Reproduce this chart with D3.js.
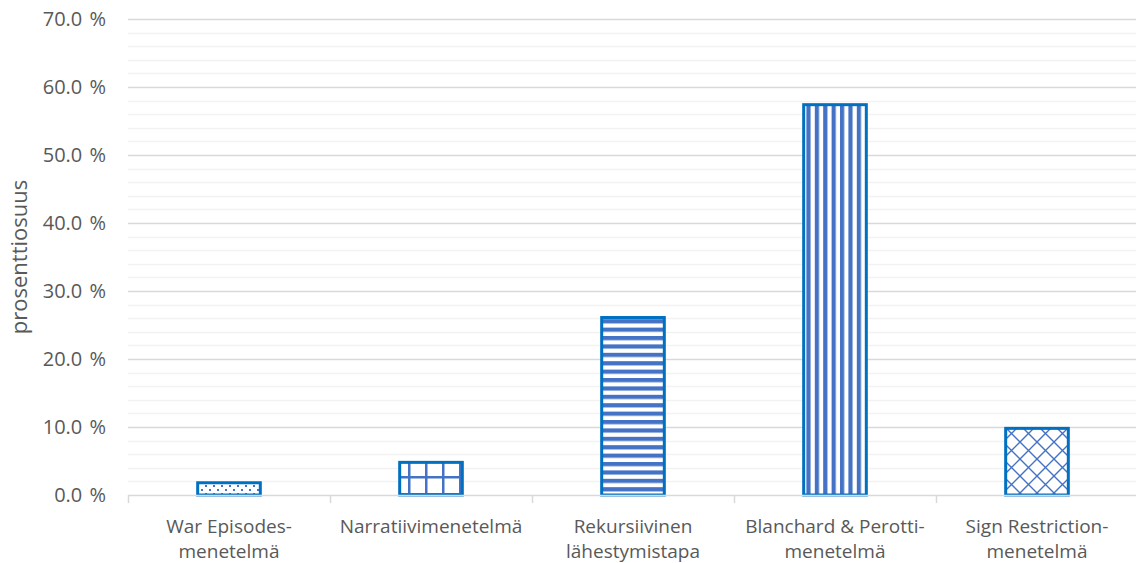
<!DOCTYPE html>
<html>
<head>
<meta charset="utf-8">
<script src="https://cdn.jsdelivr.net/npm/d3@7"></script>
<style>
  html, body { margin: 0; padding: 0; background: #fff; }
  svg { display: block; }
  text { font-family: "Open Sans", "Noto Sans", sans-serif; fill: #595959; }
</style>
</head>
<body>
<svg id="chart" width="1136" height="563"></svg>
<script>
// Share of each identification method (percent)
const categories = [
  ["War Episodes-", "menetelmä"],
  ["Narratiivimenetelmä"],
  ["Rekursiivinen", "lähestymistapa"],
  ["Blanchard & Perotti-", "menetelmä"],
  ["Sign Restriction-", "menetelmä"]
];
const values = [1.8, 4.8, 26.1, 57.4, 9.8];
const patterns = ["dots", "grid", "hstripes", "vstripes", "diamonds"];
const yTicks = [0, 10, 20, 30, 40, 50, 60, 70];
const yTickLabels = ["0.0 %", "10.0 %", "20.0 %", "30.0 %", "40.0 %", "50.0 %", "60.0 %", "70.0 %"];
const yTitle = "prosenttiosuus";

const svg = d3.select("#chart");
const W = 1136, H = 563;
const plot = { left: 128, right: 1138, top: 19, bottom: 495 };

const fillColor = "#4472c4";
const edgeColor = "#0070c0";

const x = d3.scaleBand()
  .domain(d3.range(categories.length))
  .range([plot.left, plot.right])
  .paddingInner(0.69)
  .paddingOuter(0.345);

const y = d3.scaleLinear().domain([0, 70]).range([plot.bottom, plot.top]);

// Fill patterns
const defs = svg.append("defs");
function pat(id, w, h) {
  const p = defs.append("pattern")
    .attr("id", id).attr("patternUnits", "userSpaceOnUse")
    .attr("width", w).attr("height", h);
  p.append("rect").attr("width", w).attr("height", h).attr("fill", "#fff");
  return p;
}
{
  const p = pat("dots", 8, 8);
  p.append("rect").attr("x", 1).attr("y", 1).attr("width", 2).attr("height", 2).attr("fill", fillColor);
  p.append("rect").attr("x", 5).attr("y", 5).attr("width", 2).attr("height", 2).attr("fill", fillColor);
}
{
  const p = pat("grid", 17, 17);
  p.append("rect").attr("x", 0).attr("y", 0).attr("width", 2.5).attr("height", 17).attr("fill", fillColor);
  p.append("rect").attr("x", 0).attr("y", 0).attr("width", 17).attr("height", 2.5).attr("fill", fillColor);
}
{
  const p = pat("hstripes", 8.4, 8.4);
  p.append("rect").attr("x", 0).attr("y", 0).attr("width", 8.4).attr("height", 4.2).attr("fill", fillColor);
}
{
  const p = pat("vstripes", 8.4, 8.4);
  p.append("rect").attr("x", 0).attr("y", 0).attr("width", 4.2).attr("height", 8.4).attr("fill", fillColor);
}
{
  const p = pat("diamonds", 17, 17);
  p.append("path").attr("d", "M0,0L17,17M17,0L0,17M-2,15L2,19M15,-2L19,2M-2,2L2,-2M15,19L19,15")
    .attr("stroke", fillColor).attr("stroke-width", 1.4).attr("fill", "none");
}

// Minor gridlines every 2 %
const minor = d3.range(0, 70.001, 2).filter(v => v % 10 !== 0);
svg.append("g").selectAll("line").data(minor).join("line")
  .attr("x1", plot.left).attr("x2", W)
  .attr("y1", d => Math.round(y(d)) + 0.5).attr("y2", d => Math.round(y(d)) + 0.5)
  .attr("stroke", "#f2f2f2").attr("stroke-width", 1.5);

// Major gridlines
svg.append("g").selectAll("line").data(yTicks.slice(1)).join("line")
  .attr("x1", plot.left).attr("x2", W)
  .attr("y1", d => Math.round(y(d)) + 0.5).attr("y2", d => Math.round(y(d)) + 0.5)
  .attr("stroke", "#d9d9d9").attr("stroke-width", 1.5);

// Y tick labels
svg.append("g").selectAll("text").data(yTicks).join("text")
  .attr("x", 106).attr("y", d => y(d))
  .attr("dy", "0.35em").attr("text-anchor", "end")
  .attr("font-size", 20).attr("word-spacing", 2).text((d, i) => yTickLabels[i]);

// Y axis title
svg.append("text")
  .attr("transform", `translate(27,${(plot.top + plot.bottom) / 2}) rotate(-90)`)
  .attr("text-anchor", "middle").attr("font-size", 22).text(yTitle);

// Bars
svg.append("g").selectAll("rect").data(values).join("rect")
  .attr("x", (d, i) => x(i)).attr("width", x.bandwidth())
  .attr("y", d => y(d)).attr("height", d => y(0) - y(d))
  .attr("fill", (d, i) => `url(#${patterns[i]})`)
  .attr("stroke", edgeColor).attr("stroke-width", 3);

// X axis line and category separators
svg.append("line")
  .attr("x1", plot.left).attr("x2", W)
  .attr("y1", plot.bottom + 0.5).attr("y2", plot.bottom + 0.5)
  .attr("stroke", "#d9d9d9").attr("stroke-width", 1.5);
const bounds = d3.range(categories.length + 1).map(i => plot.left + i * x.step());
svg.append("g").selectAll("line").data(bounds).join("line")
  .attr("x1", d => Math.round(d) + 0.5).attr("x2", d => Math.round(d) + 0.5)
  .attr("y1", plot.bottom).attr("y2", plot.bottom + 8)
  .attr("stroke", "#d9d9d9").attr("stroke-width", 1.5);

// Category labels
const lbl = svg.append("g").selectAll("text").data(categories).join("text")
  .attr("text-anchor", "middle").attr("font-size", 19)
  .attr("transform", (d, i) => `translate(${x(i) + x.bandwidth() / 2},533)`);
lbl.selectAll("tspan").data(d => d).join("tspan")
  .attr("x", 0).attr("y", (d, j) => j * 25).text(d => d);
</script>
</body>
</html>
